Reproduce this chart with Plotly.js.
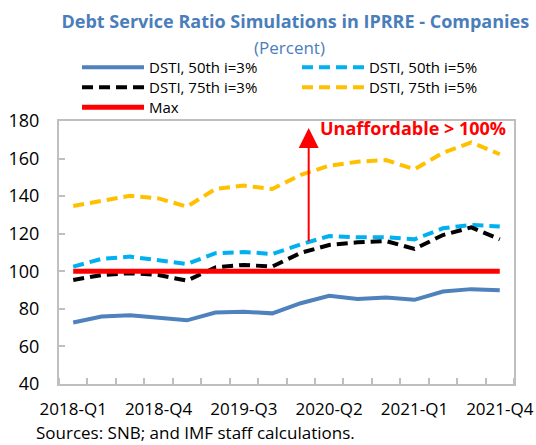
<!DOCTYPE html>
<html>
<head>
<meta charset="utf-8">
<script src="https://cdn.plot.ly/plotly-3.0.1.min.js"></script>
<style>html,body{margin:0;padding:0;background:#fff;}#chart{width:536px;height:445px;}</style>
</head>
<body>
<div id="chart"></div>
<script>
const quarters = ["2018-Q1","2018-Q2","2018-Q3","2018-Q4","2019-Q1","2019-Q2","2019-Q3","2019-Q4",
                  "2020-Q1","2020-Q2","2020-Q3","2020-Q4","2021-Q1","2021-Q2","2021-Q3","2021-Q4"];
const dsti50_3 = [72.7, 75.9, 76.6, 75.3, 73.9, 78.0, 78.5, 77.6, 83.0, 87.0, 85.3, 86.0, 84.8, 89.2, 90.5, 89.9];
const dsti50_5 = [102.5, 106.6, 107.8, 106.0, 103.9, 109.6, 110.3, 109.2, 114.3, 118.8, 118.1, 118.1, 117.0, 122.9, 124.7, 123.8];
const dsti75_3 = [95.4, 98.0, 99.0, 98.0, 95.0, 102.1, 103.4, 102.5, 109.8, 114.0, 115.4, 116.1, 111.9, 119.3, 123.4, 117.0];
const dsti75_5 = [134.8, 137.4, 140.2, 138.8, 134.4, 143.8, 145.6, 143.8, 151.3, 156.2, 158.3, 159.2, 154.3, 163.1, 168.6, 162.3];
const maxLine = [100,100,100,100,100,100,100,100,100,100,100,100,100,100,100,100];
const seriesNames = ["DSTI, 50th i=3%","DSTI, 50th i=5%","DSTI, 75th i=3%","DSTI, 75th i=5%","Max"];
const yTicks = [40,60,80,100,120,140,160,180];
const labelEvery = 3;

const xIdx = quarters.map((q,i)=>i);
const tickIdx = xIdx.filter(i=>i%labelEvery===0);
const tickTxt = tickIdx.map(i=>quarters[i]);

const FONT = "'Open Sans', 'Noto Sans', sans-serif";
const dash = "11px,6px";
const traces = [
  {x:xIdx, y:dsti50_3, name:seriesNames[0], legend:'legend', mode:'lines', line:{color:'#4F81BD', width:4}},
  {x:xIdx, y:dsti50_5, name:seriesNames[1], legend:'legend2', mode:'lines', line:{color:'#00B0F0', width:4, dash:dash}},
  {x:xIdx, y:dsti75_3, name:seriesNames[2], legend:'legend3', mode:'lines', line:{color:'#000000', width:4, dash:dash}},
  {x:xIdx, y:dsti75_5, name:seriesNames[3], legend:'legend4', mode:'lines', line:{color:'#FFC000', width:4, dash:dash}},
  {x:xIdx, y:maxLine, name:seriesNames[4], legend:'legend5', mode:'lines', line:{color:'#FF0000', width:5}}
];

function leg(x, y){
  return {x:x, xanchor:'left', y:y, yanchor:'middle', itemwidth:62, bgcolor:'rgba(0,0,0,0)',
          font:{family:FONT, size:15, color:'#000'}};
}
const c1 = 0.0396, c2 = 0.523;
const r1 = 1.2034, r2 = 1.1274, r3 = 1.0513;

const layout = {
  width:536, height:445,
  margin:{l:59, r:22, t:121, b:61},
  paper_bgcolor:'#fff', plot_bgcolor:'#fff',
  font:{family:FONT, size:16, color:'#000'},
  showlegend:true,
  title:{text:'<b>Debt Service Ratio Simulations in IPRRE - Companies</b>',
         font:{family:FONT, size:18, color:'#4A7EBB'}, x:0.551, xanchor:'center', y:0.952, yanchor:'middle'},
  legend:leg(c1, r1), legend2:leg(c2, r1), legend3:leg(c1, r2), legend4:leg(c2, r2), legend5:leg(c1, r3),
  xaxis:{range:[-0.5, 15.5], tickmode:'array', tickvals:tickIdx, ticktext:tickTxt, ticks:'',
         showgrid:false, zeroline:false, showline:true, linecolor:'#BFBFBF', linewidth:2, mirror:true,
         tickfont:{family:FONT, size:17, color:'#000'}, ticklabelstandoff:9,
         minor:{ticks:'inside', tick0:0.5, dtick:1, ticklen:6, tickcolor:'#BFBFBF', tickwidth:2, showgrid:false}},
  yaxis:{range:[40,180], tickmode:'array', tickvals:yTicks, ticks:'inside', ticklen:6, tickcolor:'#BFBFBF', tickwidth:2,
         showgrid:false, zeroline:false, showline:true, linecolor:'#BFBFBF', linewidth:2, mirror:true,
         tickfont:{family:FONT, size:18, color:'#000'}, ticklabelstandoff:14},
  annotations:[
    {x:0.5055, y:1.2776, xref:'paper', yref:'paper', text:'(Percent)', showarrow:false, xanchor:'center', yanchor:'middle',
     font:{family:FONT, size:17, color:'#4A7EBB'}},
    {x:8.28, y:176.3, ax:8.28, ay:115.2, xref:'x', yref:'y', axref:'x', ayref:'y', text:'', showarrow:true,
     arrowhead:2, arrowsize:2, arrowwidth:2, arrowcolor:'#FF0000'},
    {x:8.6, y:176.5, xref:'x', yref:'y', text:'<b>Unaffordable > 100%</b>', showarrow:false, xanchor:'left', yanchor:'middle',
     font:{family:FONT, size:18, color:'#FF0000'}},
    {x:-0.055, y:-0.1863, xref:'paper', yref:'paper', text:'Sources: SNB; and IMF staff calculations.', showarrow:false,
     xanchor:'left', yanchor:'middle', font:{family:FONT, size:17, color:'#000'}}
  ]
};
Plotly.newPlot('chart', traces, layout, {displayModeBar:false, staticPlot:true});
</script>
</body>
</html>
